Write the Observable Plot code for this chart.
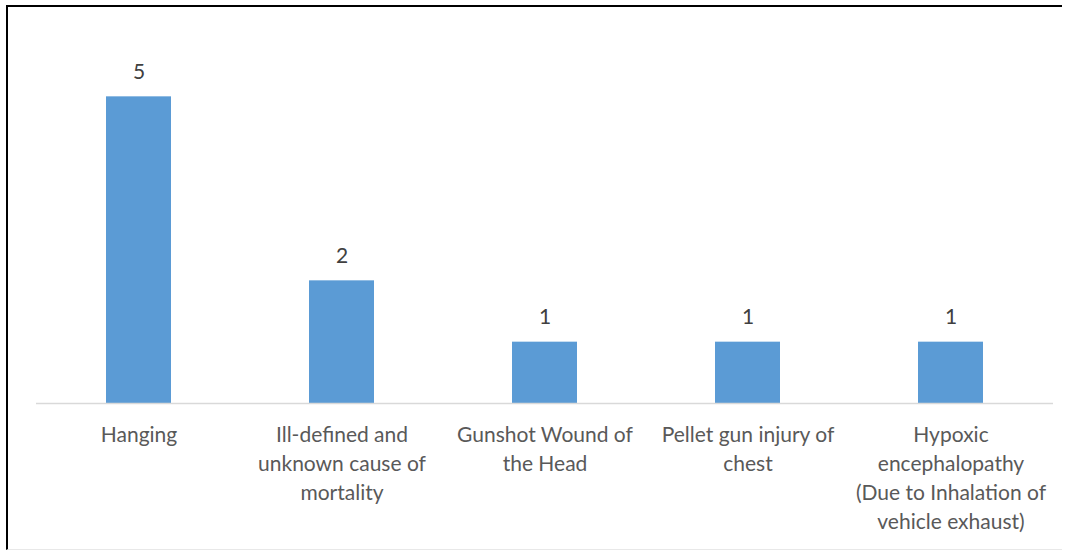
<!DOCTYPE html>
<html>
<head>
<meta charset="utf-8">
<script src="https://cdn.jsdelivr.net/npm/d3@7"></script>
<script src="https://cdn.jsdelivr.net/npm/@observablehq/plot@0.6"></script>
<style>
  html, body { margin: 0; padding: 0; background: #fff; }
  #wrap { position: relative; width: 1071px; height: 552px; overflow: hidden; }
  #frame { position: absolute; left: 6px; top: 5px; width: 1056px; height: 545px;
           border-top: 2px solid #000; border-left: 2px solid #000; border-bottom: 1px solid #e8e8e8; box-sizing: border-box; }
  #chart { position: absolute; left: 0; top: 0; }
</style>
</head>
<body>
<div id="wrap"><div id="frame"></div><div id="chart"></div></div>
<script>
const categories = [
  "Hanging",
  "Ill-defined and unknown cause of mortality",
  "Gunshot Wound of the Head",
  "Pellet gun injury of chest",
  "Hypoxic encephalopathy (Due to Inhalation of vehicle exhaust)"
];
const tickLabels = [
  "Hanging",
  "Ill-defined and\nunknown cause of\nmortality",
  "Gunshot Wound of\nthe Head",
  "Pellet gun injury of\nchest",
  "Hypoxic\nencephalopathy\n(Due to Inhalation of\nvehicle exhaust)"
];
const counts = [5, 2, 1, 1, 1];

const data = categories.map((c, i) => ({category: c, count: counts[i]}));
const labelOf = new Map(categories.map((c, i) => [c, tickLabels[i]]));

const chart = Plot.plot({
  width: 1071,
  height: 552,
  marginLeft: 36,
  marginRight: 18,
  marginTop: 35,
  marginBottom: 149,
  style: {fontFamily: "Lato, 'Open Sans', sans-serif", background: "transparent"},
  x: {domain: categories, paddingInner: 0.68, paddingOuter: 0.34, align: 0.5, label: null},
  y: {domain: [0, 6], axis: null},
  marks: [
    Plot.barY(data, {x: "category", y: "count", fill: "#5B9BD5"}),
    Plot.ruleY([0], {stroke: "#D9D9D9", strokeWidth: 1.5}),
    Plot.text(data, {x: "category", y: "count", text: d => String(d.count), lineAnchor: "bottom", dy: -18, fontSize: 21, fill: "#404040"}),
    Plot.axisX({tickSize: 0, tickPadding: 18, tickFormat: d => labelOf.get(d), fontSize: 21, lineHeight: 1.38, fill: "#595959", label: null})
  ]
});
document.getElementById("chart").appendChild(chart);
</script>
</body>
</html>
